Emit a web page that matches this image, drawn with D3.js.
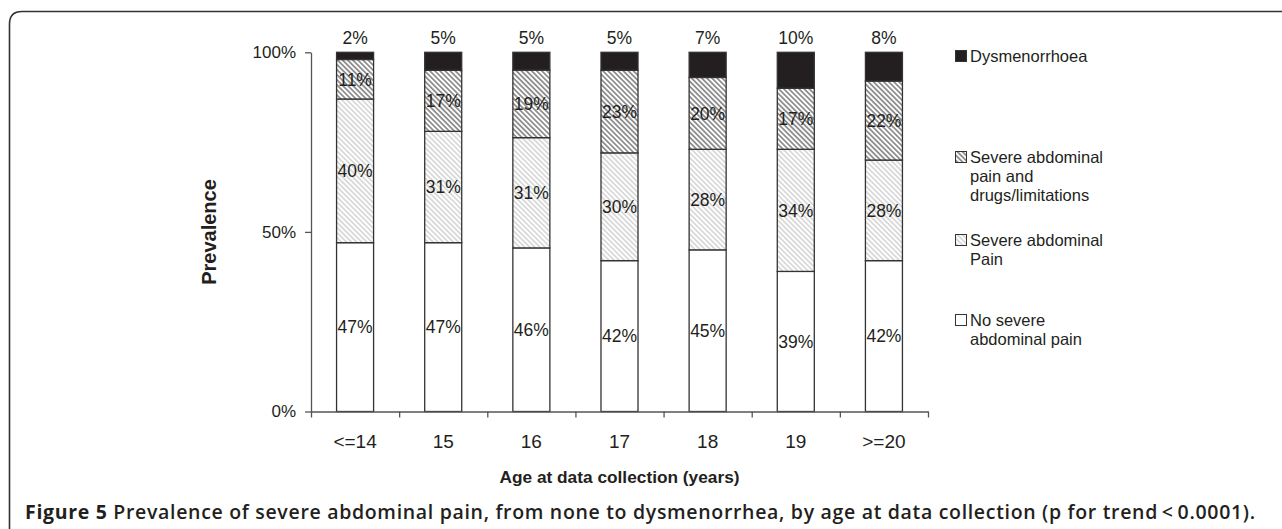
<!DOCTYPE html>
<html>
<head>
<meta charset="utf-8">
<script src="https://cdn.jsdelivr.net/npm/d3@7"></script>
<style>
  body { margin: 0; background: #fff; }
  svg { display: block; }
  text { font-family: "Liberation Sans", Arial, sans-serif; fill: #231f20; }
</style>
</head>
<body>
<script>
(function() {

    var width = 1282,
        height = 529;

    // data (percent per age group, bottom to top)
    var ages = ["<=14", "15", "16", "17", "18", "19", ">=20"];
    var noPain = [47, 47, 46, 42, 45, 39, 42];
    var severePain = [40, 31, 31, 30, 28, 34, 28];
    var painDrugs = [11, 17, 19, 23, 20, 17, 22];
    var dysmen = [2, 5, 5, 5, 7, 10, 8];
    var yTicks = [0, 0.5, 1];

    var keys = ["none", "pain", "drugs", "dys"];
    var rows = ages.map(function(a, i) {
        return { age: a, none: noPain[i], pain: severePain[i], drugs: painDrugs[i], dys: dysmen[i] };
    });

    var svg = d3.select("body")
        .append("svg")
        .attr("width", width)
        .attr("height", height);

    var defs = svg.append("defs");

    // hatch patterns ("\" direction)
    function hatch(id, stroke, sw) {
        var p = defs.append("pattern")
            .attr("id", id)
            .attr("patternUnits", "userSpaceOnUse")
            .attr("width", 3.6)
            .attr("height", 3.6)
            .attr("patternTransform", "rotate(-45)");
        p.append("rect").attr("width", 3.6).attr("height", 3.6).attr("fill", "#fff");
        p.append("line")
            .attr("x1", 1.8).attr("x2", 1.8)
            .attr("y1", 0).attr("y2", 3.6)
            .attr("stroke", stroke)
            .attr("stroke-width", sw);
    }
    hatch("hatchLight", "#b4b4b4", 0.9);
    hatch("hatchDark", "#707070", 1.4);

    var fills = { none: "#fff", pain: "url(#hatchLight)", drugs: "url(#hatchDark)", dys: "#231f20" };

    // frame round the figure
    svg.append("path")
        .attr("d", "M9.5," + height + " L9.5,24 Q9.5,11.5 22,11.5 L" + width + ",11.5")
        .attr("fill", "none")
        .attr("stroke", "#333")
        .attr("stroke-width", 1.6);

    var margin = { left: 311, right: width - 928, top: 52.3, bottom: height - 411.5 };

    var x = d3.scaleBand()
        .domain(ages)
        .range([margin.left, width - margin.right])
        .paddingInner(0.58)
        .paddingOuter(0.29);

    var y = d3.scaleLinear()
        .domain([0, 1])
        .range([height - margin.bottom, margin.top]);

    var stack = d3.stack()
        .keys(keys)
        .offset(d3.stackOffsetExpand);
    var stacked = stack(rows);

    var graph = svg.append("g");

    var layers = graph.selectAll(".layer")
        .data(stacked)
        .enter().append("g")
        .attr("class", "layer");

    layers.selectAll("rect")
        .data(function(d) { return d.map(function(v) { v.key = d.key; return v; }); })
        .enter().append("rect")
        .attr("x", function(d) { return x(d.data.age); })
        .attr("width", x.bandwidth())
        .attr("y", function(d) { return y(d[1]); })
        .attr("height", function(d) { return y(d[0]) - y(d[1]); })
        .attr("fill", function(d) { return fills[d.key]; })
        .attr("stroke", "#333")
        .attr("stroke-width", 1.3);

    // labels inside the segments
    layers.filter(function(d) { return d.key !== "dys"; })
        .selectAll("text")
        .data(function(d) { return d.map(function(v) { v.key = d.key; return v; }); })
        .enter().append("text")
        .attr("x", function(d) { return x(d.data.age) + x.bandwidth() / 2; })
        .attr("y", function(d) { return (y(d[0]) + y(d[1])) / 2; })
        .attr("dy", "0.36em")
        .attr("text-anchor", "middle")
        .style("font-size", "17.5px")
        .text(function(d) { return d.data[d.key] + "%"; });

    // dysmenorrhoea labels above the bars
    graph.selectAll(".top-label")
        .data(rows)
        .enter().append("text")
        .attr("class", "top-label")
        .attr("x", function(d) { return x(d.age) + x.bandwidth() / 2; })
        .attr("y", y(1) - 8)
        .attr("text-anchor", "middle")
        .style("font-size", "17.5px")
        .text(function(d) { return d.dys + "%"; });

    // y axis
    var yAxis = svg.append("g")
        .attr("transform", "translate(" + margin.left + ",0)")
        .call(d3.axisLeft(y)
            .tickValues(yTicks)
            .tickFormat(d3.format(".0%"))
            .tickSize(6)
            .tickSizeOuter(0));
    yAxis.selectAll("text")
        .attr("x", -15)
        .style("font-size", "17px")
        .style("font-family", "Liberation Sans, Arial, sans-serif");

    // x axis, ticks at band edges
    var edge = d3.scaleLinear()
        .domain([0, ages.length])
        .range([margin.left, width - margin.right]);
    svg.append("g")
        .attr("transform", "translate(0," + y(0) + ")")
        .call(d3.axisBottom(edge)
            .ticks(ages.length)
            .tickFormat("")
            .tickSize(6)
            .tickSizeOuter(0));

    var xAxis = svg.append("g")
        .attr("transform", "translate(0," + y(0) + ")")
        .call(d3.axisBottom(x).tickSize(0).tickPadding(23));
    xAxis.select(".domain").remove();
    xAxis.selectAll("text")
        .style("font-size", "19px")
        .style("font-family", "Liberation Sans, Arial, sans-serif");

    svg.selectAll(".domain, .tick line").attr("stroke", "#555").attr("stroke-width", 1.3);

    // axis titles
    svg.append("text")
        .attr("x", (margin.left + width - margin.right) / 2)
        .attr("y", 483)
        .attr("text-anchor", "middle")
        .style("font-size", "17.3px")
        .style("font-weight", "bold")
        .text("Age at data collection (years)");

    svg.append("text")
        .attr("transform", "translate(216,232) rotate(-90)")
        .attr("text-anchor", "middle")
        .style("font-size", "20px")
        .style("font-weight", "bold")
        .text("Prevalence");

    // legend
    var legendLines = [
        { key: "dys", lines: ["Dysmenorrhoea"], y: 56 },
        { key: "drugs", lines: ["Severe abdominal", "pain and", "drugs/limitations"], y: 157 },
        { key: "pain", lines: ["Severe abdominal", "Pain"], y: 240 },
        { key: "none", lines: ["No severe", "abdominal pain"], y: 320 }
    ];
    var legend = svg.append("g");
    var item = legend.selectAll(".legend-item")
        .data(legendLines)
        .enter().append("g")
        .attr("class", "legend-item")
        .attr("transform", function(d) { return "translate(955," + d.y + ")"; });
    item.append("rect")
        .attr("x", 0.5)
        .attr("y", -5.5)
        .attr("width", 11)
        .attr("height", 11)
        .attr("fill", function(d) { return fills[d.key]; })
        .attr("stroke", "#333")
        .attr("stroke-width", 1);
    item.append("text")
        .style("font-size", "16.5px")
        .selectAll("tspan")
        .data(function(d) { return d.lines; })
        .enter().append("tspan")
        .attr("x", 15)
        .attr("dy", function(d, i) { return i === 0 ? "0.35em" : "19px"; })
        .text(function(d) { return d; });

    // caption
    var cap = svg.append("text")
        .attr("x", 25)
        .attr("y", 519)
        .attr("textLength", 1230)
        .attr("lengthAdjust", "spacing")
        .style("font-family", "'Open Sans', 'Noto Sans', sans-serif")
        .style("font-size", "19.5px");
    cap.append("tspan")
        .style("font-weight", "bold")
        .text("Figure 5");
    cap.append("tspan")
        .style("font-weight", "600")
        .text(" Prevalence of severe abdominal pain, from none to dysmenorrhea, by age at data collection (p for trend\u2009<\u20090.0001).");

})();
</script>
</body>
</html>
